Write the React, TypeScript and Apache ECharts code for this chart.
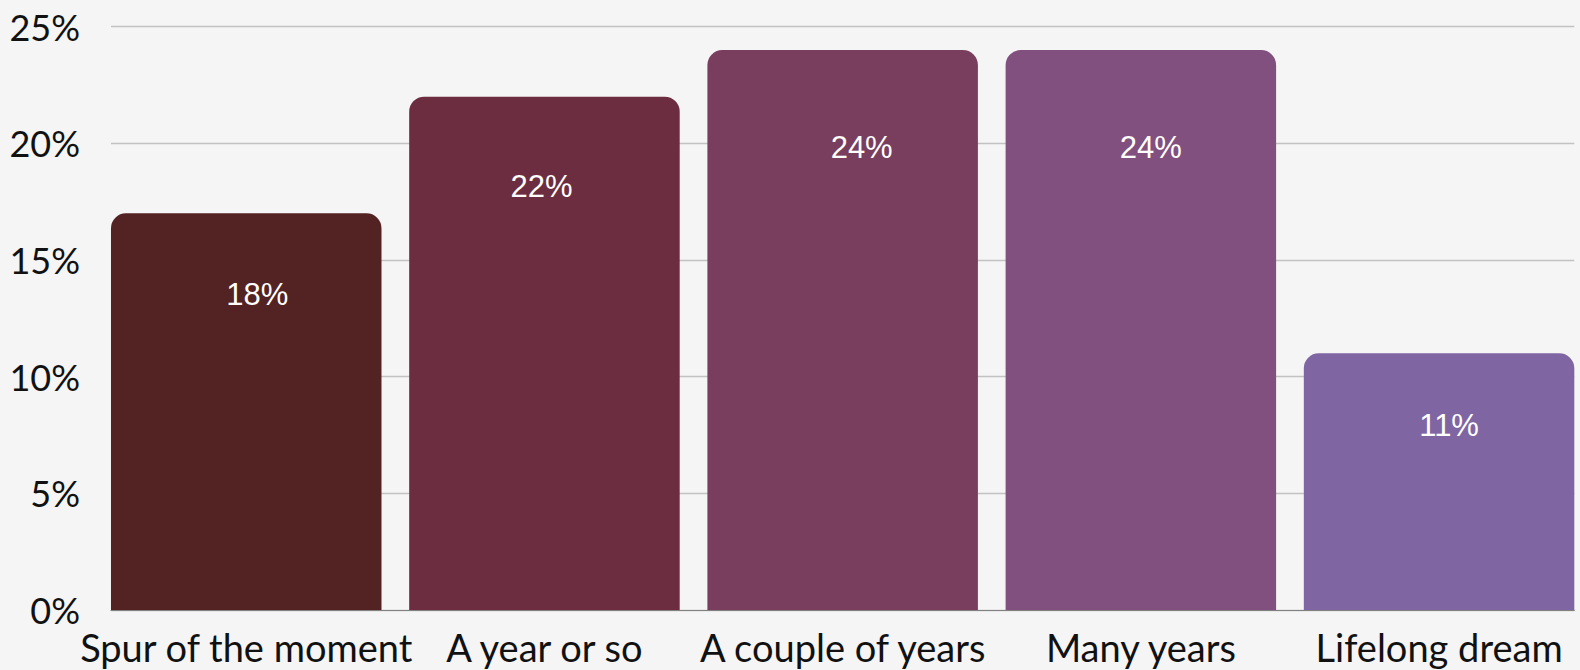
import React, { useEffect, useRef } from "react";
import * as echarts from "echarts";

const categories = ["Spur of the moment", "A year or so", "A couple of years", "Many years", "Lifelong dream"];
const values = [17, 22, 24, 24, 11];
const valueLabels = ["18%", "22%", "24%", "24%", "11%"];
const yTicks = [0, 5, 10, 15, 20, 25];

const barColors = ["#532222", "#6b2d3f", "#793d5d", "#81507f", "#7f66a2"];
const labelDistances = [66, 74, 82, 82, 57];
const labelShiftX = [11, -3, 19, 10, 10];

export default function App() {
  const ref = useRef<HTMLDivElement>(null);
  useEffect(() => {
    if (!ref.current) return;
    const chart = echarts.init(ref.current, undefined, { renderer: "svg" });
    const half = 0.4535;
    chart.setOption({
      animation: false,
      backgroundColor: "#f5f5f5",
      grid: { left: 111, right: 5.7, top: 26.7, bottom: 60, containLabel: false },
      xAxis: {
        type: "value",
        min: -half,
        max: categories.length - 1 + half,
        splitLine: { show: false },
        axisTick: { show: false },
        axisLine: { show: true, lineStyle: { color: "#808080", width: 1 } },
        axisLabel: {
          customValues: categories.map((_, i) => i),
          formatter: (v: number) => categories[Math.round(v)] ?? "",
          color: "#111",
          fontFamily: "Lato",
          fontSize: 38,
          margin: 18,
        },
      },
      yAxis: {
        type: "value",
        min: yTicks[0],
        max: yTicks[yTicks.length - 1],
        interval: 5,
        axisLine: { show: false },
        axisTick: { show: false },
        splitLine: { lineStyle: { color: "#c2c2c2", width: 1.3 } },
        axisLabel: {
          formatter: "{value}%",
          color: "#111",
          fontFamily: "Lato",
          fontSize: 36,
          margin: 31,
        },
      },
      series: [
        {
          type: "bar",
          barWidth: 270.5,
          data: values.map((v, i) => ({
            value: [i, v],
            itemStyle: { color: barColors[i], borderRadius: [15, 15, 0, 0] },
            label: {
              show: true,
              position: "insideTop",
              distance: labelDistances[i],
              offset: [labelShiftX[i], 0],
              formatter: () => valueLabels[i],
              color: "#ffffff",
              fontFamily: "Liberation Sans",
              fontSize: 31,
            },
          })),
        },
      ],
    });
    return () => chart.dispose();
  }, []);
  return (
    <div
      ref={ref}
      style={{ position: "fixed", left: 0, top: 0, width: 1580, height: 670, background: "#f5f5f5" }}
    />
  );
}
